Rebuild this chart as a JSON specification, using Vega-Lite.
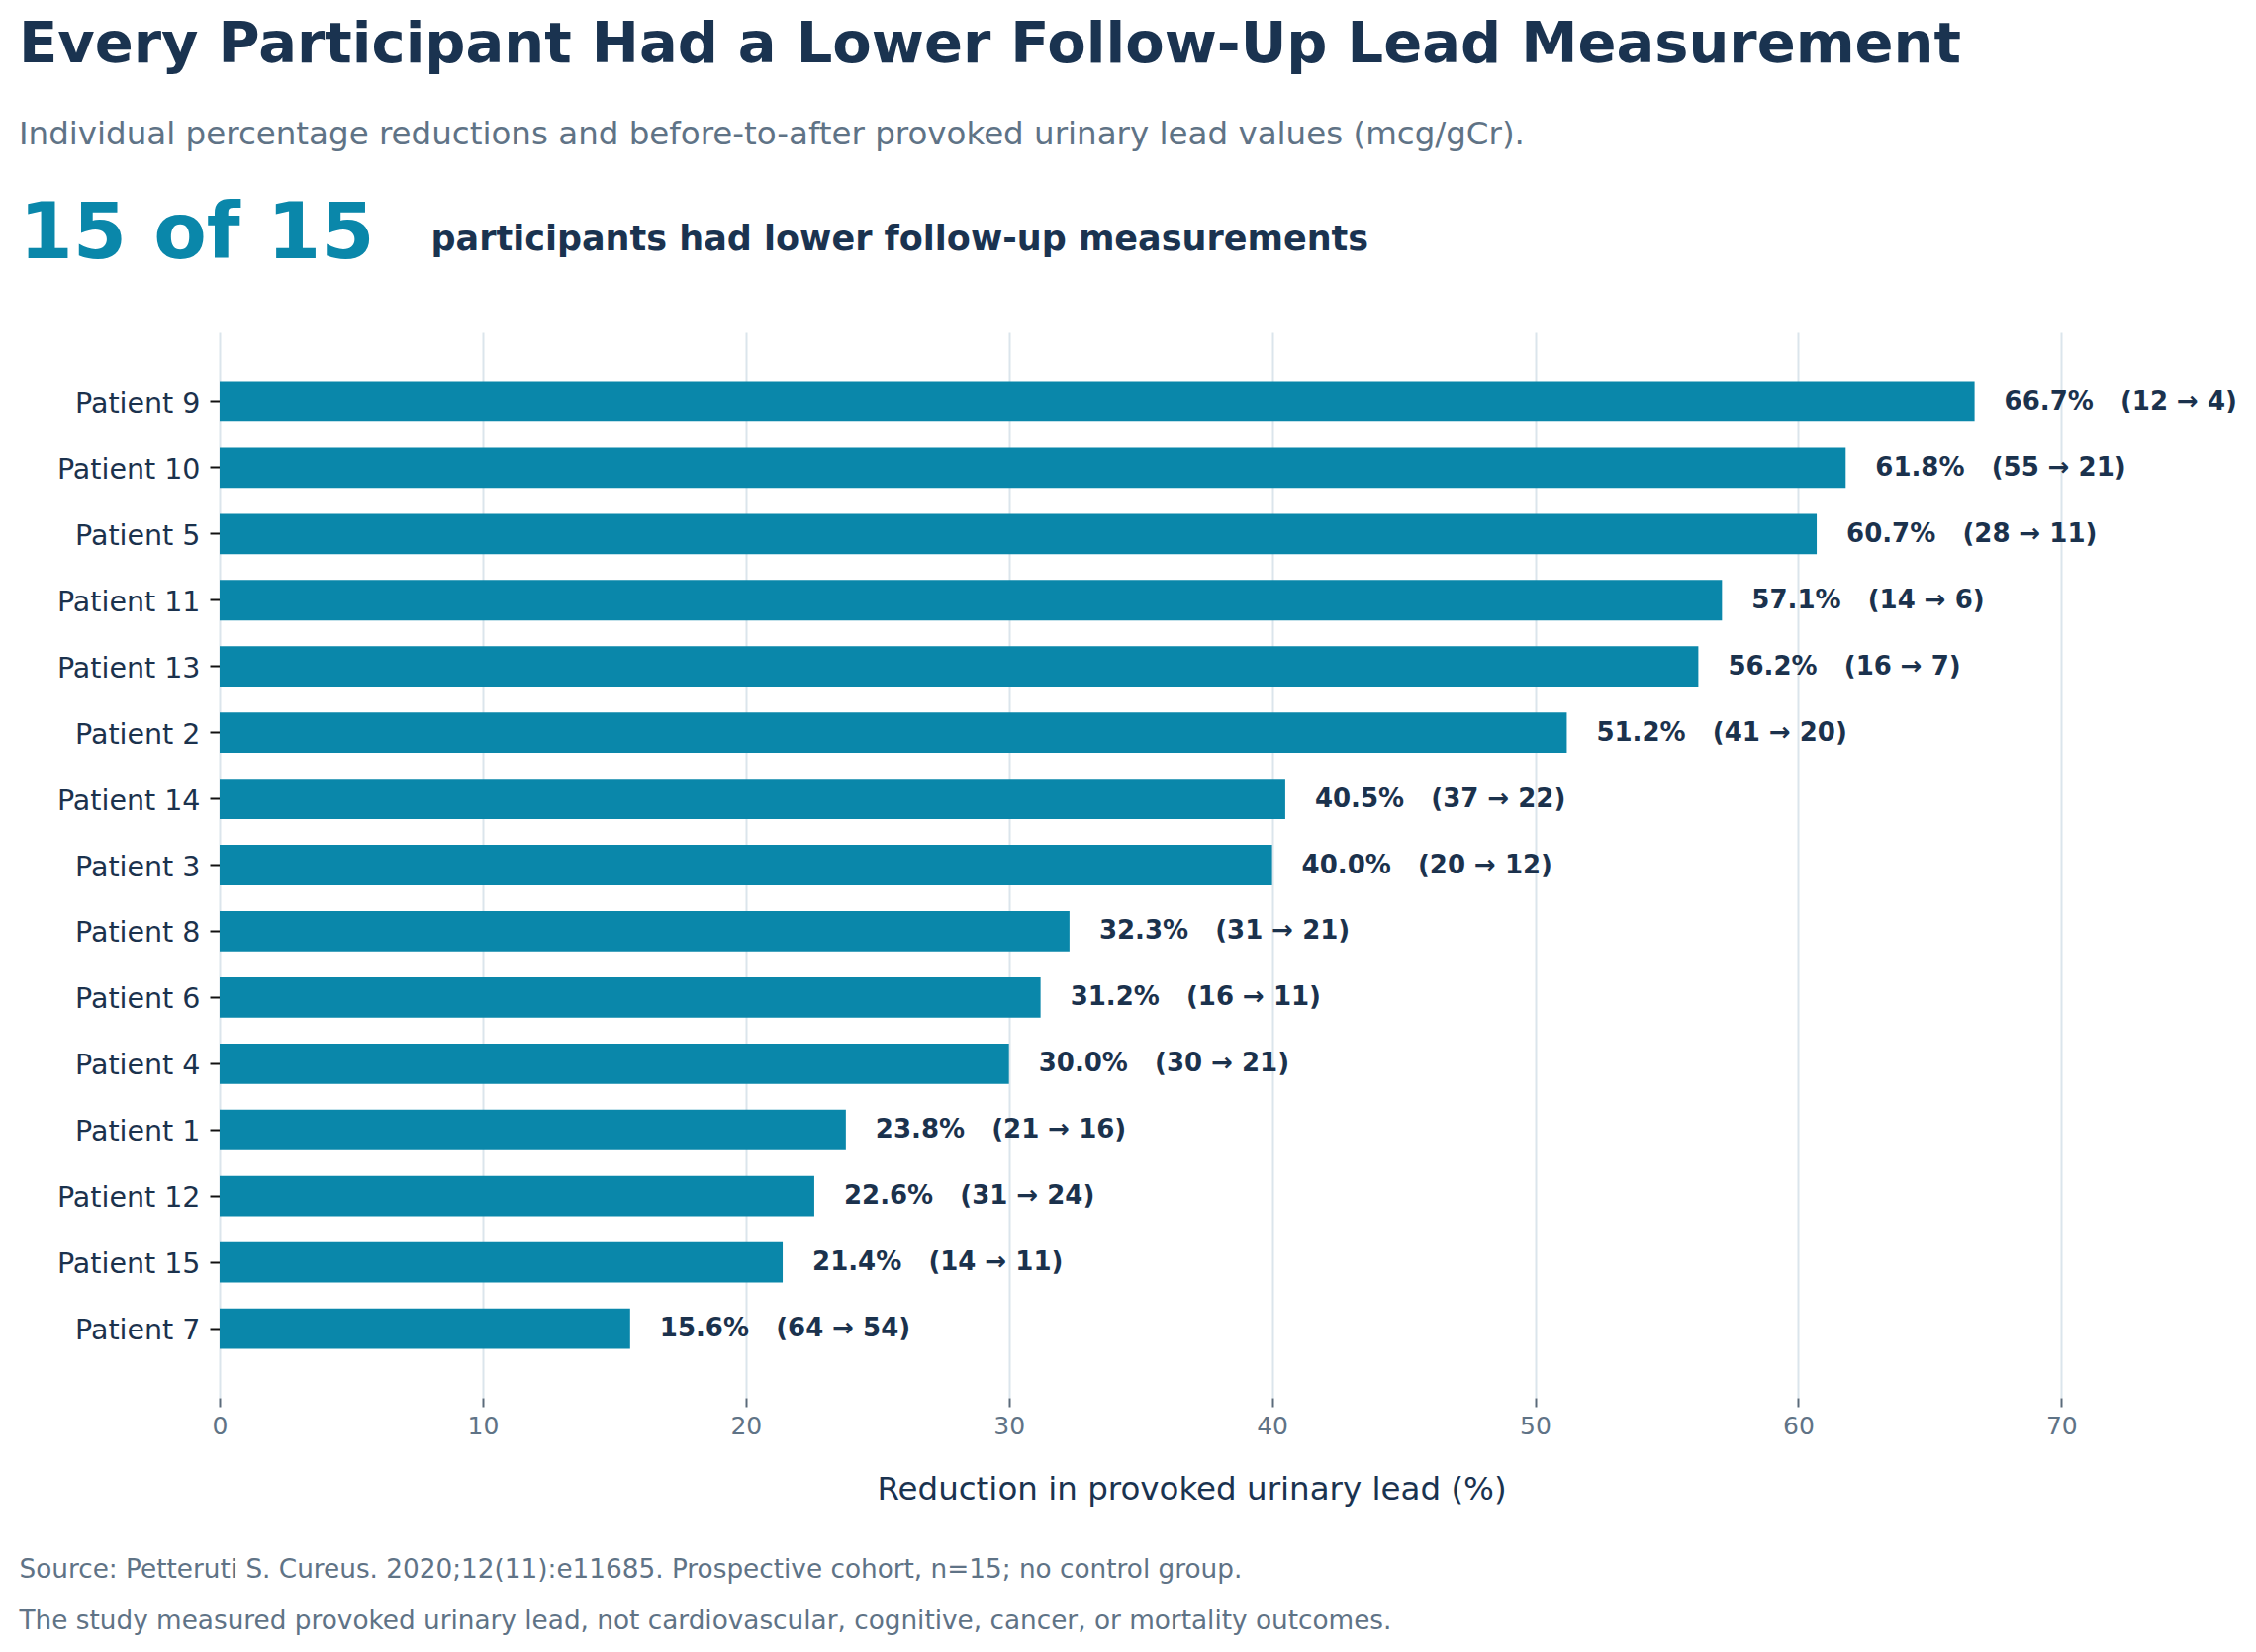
{
  "$schema": "https://vega.github.io/schema/vega-lite/v6.json",
  "autosize": {"type": "none"},
  "padding": {"left": 222, "top": 336, "right": 77, "bottom": 257},
  "width": 1981,
  "height": 1077,
  "background": "white",
  "title": {
    "text": "Every Participant Had a Lower Follow-Up Lead Measurement",
    "subtitle": "Individual percentage reductions and before-to-after provoked urinary lead values (mcg/gCr).",
    "anchor": "start",
    "frame": "group",
    "dx": -203,
    "offset": 45,
    "font": "DejaVu Sans",
    "fontSize": 57.5,
    "fontWeight": "bold",
    "color": "#1a3350",
    "subtitleFont": "DejaVu Sans",
    "subtitleFontSize": 32.5,
    "subtitleColor": "#5f7386",
    "subtitlePadding": 44
  },
  "data": {
    "values": [
      {"patient": "Patient 9", "pct": 66.7, "before": 12, "after": 4},
      {"patient": "Patient 10", "pct": 61.8, "before": 55, "after": 21},
      {"patient": "Patient 5", "pct": 60.7, "before": 28, "after": 11},
      {"patient": "Patient 11", "pct": 57.1, "before": 14, "after": 6},
      {"patient": "Patient 13", "pct": 56.2, "before": 16, "after": 7},
      {"patient": "Patient 2", "pct": 51.2, "before": 41, "after": 20},
      {"patient": "Patient 14", "pct": 40.5, "before": 37, "after": 22},
      {"patient": "Patient 3", "pct": 40.0, "before": 20, "after": 12},
      {"patient": "Patient 8", "pct": 32.3, "before": 31, "after": 21},
      {"patient": "Patient 6", "pct": 31.2, "before": 16, "after": 11},
      {"patient": "Patient 4", "pct": 30.0, "before": 30, "after": 21},
      {"patient": "Patient 1", "pct": 23.8, "before": 21, "after": 16},
      {"patient": "Patient 12", "pct": 22.6, "before": 31, "after": 24},
      {"patient": "Patient 15", "pct": 21.4, "before": 14, "after": 11},
      {"patient": "Patient 7", "pct": 15.6, "before": 64, "after": 54}
    ]
  },
  "transform": [
    {"calculate": "format(datum.pct, '.1f') + '%\u00a0\u00a0\u00a0(' + datum.before + ' → ' + datum.after + ')'", "as": "label"}
  ],
  "layer": [
    {
      "mark": {"type": "bar", "color": "#0a87aa"},
      "encoding": {
        "y": {
          "field": "patient",
          "type": "nominal",
          "sort": null,
          "scale": {"paddingInner": 0.39, "paddingOuter": 0.74},
          "axis": {
            "orient": "left",
            "title": "15 of 15",
            "titleAngle": 0,
            "titleX": -203,
            "titleY": -76,
            "titleAlign": "left",
            "titleBaseline": "alphabetic",
            "titleFontSize": 78,
            "titleFontWeight": "bold",
            "titleColor": "#0a87aa",
            "labelFontSize": 28.5,
            "labelColor": "#1b324d",
            "labelPadding": 10,
            "labelOffset": 2,
            "tickSize": 10,
            "tickColor": "#111111",
            "tickWidth": 2,
            "domain": false,
            "grid": false
          }
        },
        "x": {
          "field": "pct",
          "type": "quantitative",
          "scale": {"domain": [0, 74.5], "nice": false},
          "axis": {
            "orient": "bottom",
            "values": [0, 10, 20, 30, 40, 50, 60, 70],
            "labelFlush": false,
            "grid": true,
            "gridColor": "#dbe5ec",
            "gridWidth": 2,
            "domain": false,
            "tickSize": 9,
            "tickColor": "#5b6b7b",
            "tickWidth": 2,
            "labelFontSize": 25,
            "labelColor": "#5f7386",
            "labelPadding": 7,
            "title": "Reduction in provoked urinary lead (%)",
            "titleFontSize": 32.5,
            "titleFontWeight": "normal",
            "titleColor": "#1a3350",
            "titleX": 982,
            "titleY": 102,
            "titleAlign": "center",
            "titleBaseline": "alphabetic"
          }
        }
      }
    },
    {
      "mark": {"type": "text", "align": "left", "baseline": "middle", "dx": 30, "fontSize": 26, "fontWeight": "bold", "color": "#1b324d"},
      "encoding": {
        "text": {"field": "label"},
        "y": {
          "field": "patient",
          "type": "nominal",
          "sort": null,
          "axis": {
            "orient": "right",
            "labels": false,
            "ticks": false,
            "domain": false,
            "grid": false,
            "title": [
              "Source: Petteruti S. Cureus. 2020;12(11):e11685. Prospective cohort, n=15; no control group.",
              "The study measured provoked urinary lead, not cardiovascular, cognitive, cancer, or mortality outcomes."
            ],
            "titleAngle": 0,
            "titleX": -2184,
            "titleY": 1258,
            "titleAlign": "left",
            "titleBaseline": "alphabetic",
            "titleFontSize": 26.3,
            "titleFontWeight": "normal",
            "titleColor": "#5f7386",
            "titleLineHeight": 52
          }
        },
        "x": {
          "field": "pct",
          "type": "quantitative",
          "axis": {
            "orient": "top",
            "labels": false,
            "ticks": false,
            "domain": false,
            "grid": false,
            "title": "participants had lower follow-up measurements",
            "titleAngle": 0,
            "titleX": 213,
            "titleY": -84,
            "titleAlign": "left",
            "titleBaseline": "alphabetic",
            "titleFontSize": 35,
            "titleFontWeight": "bold",
            "titleColor": "#1a3350"
          }
        }
      }
    }
  ],
  "resolve": {"axis": {"x": "independent", "y": "independent"}},
  "config": {
    "font": "DejaVu Sans",
    "view": {"stroke": null}
  }
}
